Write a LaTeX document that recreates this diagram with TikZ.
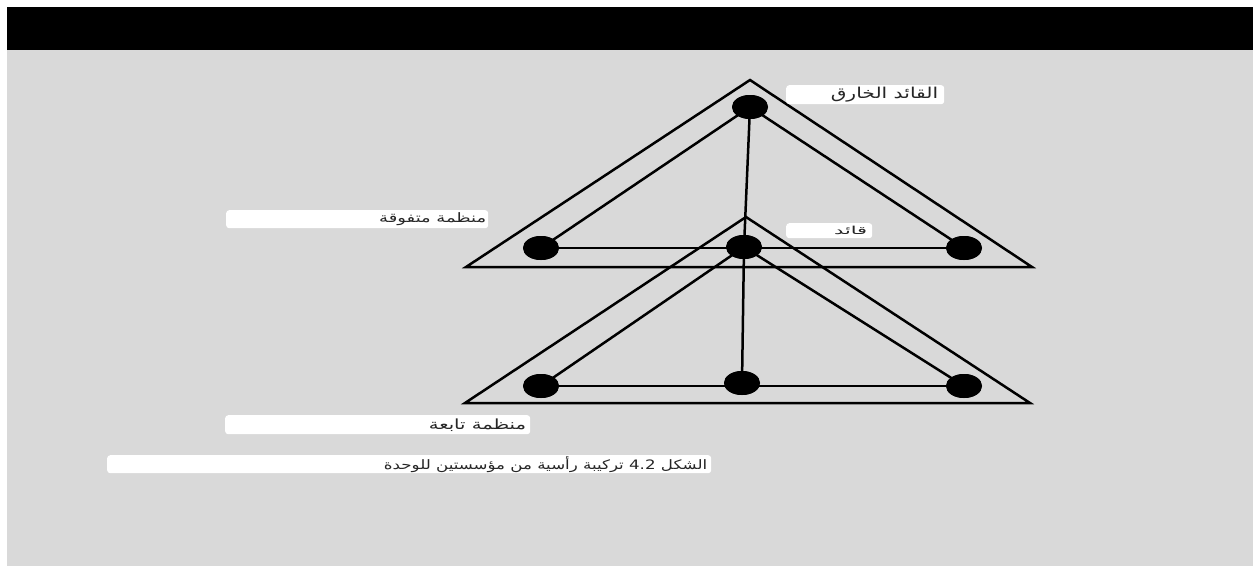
\documentclass[tikz,border=0pt]{standalone}
\usepackage{fontspec}
\usepackage{graphicx}
\usetikzlibrary{shapes.geometric}
\TeXXeTstate=1
\newfontfamily\arabicfont[Script=Arabic]{DejaVu Sans}
\definecolor{canvas}{HTML}{D9D9D9}
% size, horizontal stretch, text
\newcommand{\artext}[3]{\scalebox{#2}[1]{\arabicfont\fontsize{#1}{#1}\selectfont #3}}
\begin{document}
\begin{tikzpicture}[x=1pt,y=-1pt,
  dot/.style={ellipse, fill=black, minimum width=36pt, minimum height=24pt, inner sep=0pt},
  edge/.style={line width=2.5pt, black},
  frame/.style={line width=2.5pt, black, line join=miter},
  tag/.style={fill=white, rounded corners=3pt, inner sep=0pt, anchor=north west},
  txt/.style={anchor=east, inner sep=0pt, text=black!85},
  ]
\useasboundingbox (0,0) rectangle (1253,566);
\fill[canvas] (7,50) rectangle (1253,566);
\fill[black] (7,7) rectangle (1253,50);

% outer frames of the two organisations
\coordinate (A1) at (750,80);
\coordinate (L1) at (466,267);
\coordinate (R1) at (1032,267);
\coordinate (A2) at (746,217);
\coordinate (L2) at (465,403);
\coordinate (R2) at (1030,403);
\draw[frame] (A1) -- (L1) -- (R1) -- cycle;
\draw[frame] (A2) -- (L2) -- (R2) -- cycle;

% members
\node[dot] (t)  at (750,107) {};
\node[dot] (ul) at (541,248) {};
\node[dot] (um) at (744,247) {};
\node[dot] (ur) at (964,248) {};
\node[dot] (bl) at (541,386) {};
\node[dot] (bm) at (742,383) {};
\node[dot] (br) at (964,386) {};

% links
\draw[edge] (t.center) -- (ul.center);
\draw[edge] (t.center) -- (ur.center);
\draw[edge] (ul.center) -- (ur.center);
\draw[edge] (t.center) -- (um.center) -- (bm.center);
\draw[edge] (um.center) -- (bl.center);
\draw[edge] (um.center) -- (br.center);
\draw[edge] (bl.center) -- (br.center);
% redraw dots on top of the links
\foreach \n in {t,ul,um,ur,bl,bm,br}
  \fill[black] (\n.center) ellipse [x radius=18pt, y radius=12pt];

% labels
\node[tag, minimum width=158pt, minimum height=19pt] (b1) at (786,85) {};
\node[txt] (l1) at ([xshift=-6pt]b1.east) {\artext{15}{1.35}{\beginR القائد الخارق\endR}};

\node[tag, minimum width=262pt, minimum height=18pt] (b2) at (226,210) {};
\node[txt] (l2) at ([xshift=-2pt]b2.east) {\artext{13}{1.38}{\beginR منظمة متفوقة\endR}};

\node[tag, minimum width=86pt, minimum height=15pt] (b3) at (786,223) {};
\node[txt] (l3) at ([xshift=-5pt]b3.east) {\artext{11}{1.9}{\beginR قائد\endR}};

\node[tag, minimum width=305pt, minimum height=19pt] (b4) at (225,415) {};
\node[txt] (l4) at ([xshift=-4pt]b4.east) {\artext{14}{1.4}{\beginR منظمة تابعة\endR}};

\node[tag, minimum width=604pt, minimum height=18pt] (b5) at (107,455) {};
\node[txt] (l5) at ([xshift=-4pt]b5.east) {\artext{13}{1.28}{\beginR الشكل \beginL 4.2\endL{} تركيبة رأسية من مؤسستين للوحدة\endR}};
\end{tikzpicture}
\end{document}
